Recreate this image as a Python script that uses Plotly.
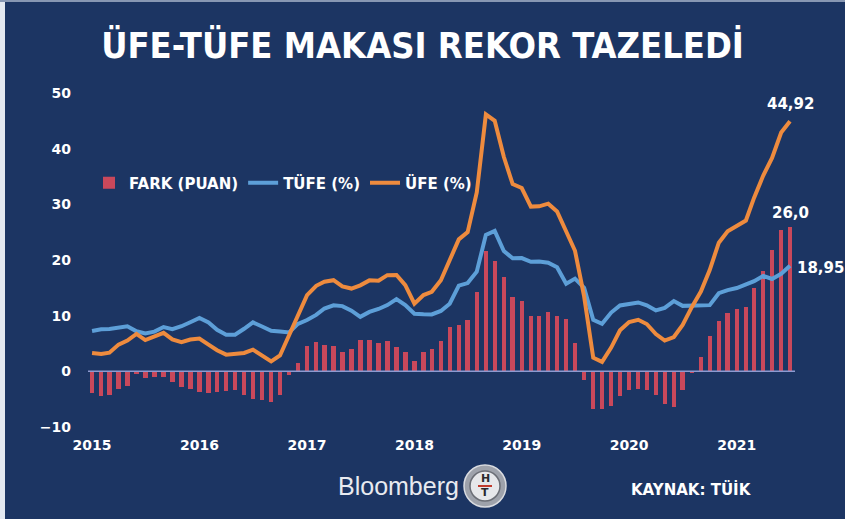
import pandas as pd
import plotly.graph_objects as go

# ---------------- data ----------------
months = pd.date_range("2015-01-01", periods=79, freq="MS")
year_ticks = ["2015", "2016", "2017", "2018", "2019", "2020", "2021"]

tufe = [
    7.24, 7.55, 7.61, 7.91, 8.09, 7.20, 6.81, 7.14, 7.95, 7.58, 8.10, 8.81,
    9.58, 8.78, 7.46, 6.57, 6.58, 7.64, 8.79, 8.05, 7.28, 7.16, 7.00, 8.53,
    9.22, 10.13, 11.29, 11.87, 11.72, 10.90, 9.79, 10.68, 11.20, 11.90, 12.98, 11.92,
    10.35, 10.26, 10.23, 10.85, 12.15, 15.39, 15.85, 17.90, 24.52, 25.24, 21.62, 20.30,
    20.35, 19.67, 19.71, 19.50, 18.71, 15.72, 16.65, 15.01, 9.26, 8.55, 10.56, 11.84,
    12.15, 12.37, 11.86, 10.94, 11.39, 12.62, 11.76, 11.77, 11.75, 11.89, 14.03, 14.60,
    14.97, 15.61, 16.19, 17.14, 16.59, 17.53, 18.95,
]
ufe = [
    3.28, 3.10, 3.34, 4.80, 5.52, 6.73, 5.62, 6.21, 6.92, 5.74, 5.25, 5.71,
    5.90, 4.80, 3.80, 3.00, 3.20, 3.30, 3.90, 2.90, 1.78, 2.84, 6.41, 9.94,
    13.69, 15.36, 16.09, 16.37, 15.26, 14.87, 15.45, 16.34, 16.28, 17.28, 17.30, 15.47,
    12.14, 13.71, 14.28, 16.37, 20.16, 23.71, 25.00, 32.13, 46.15, 45.01, 38.54, 33.64,
    32.93, 29.59, 29.64, 30.12, 28.71, 25.04, 21.66, 13.45, 2.45, 1.70, 4.26, 7.36,
    8.84, 9.26, 8.50, 6.71, 5.53, 6.17, 8.33, 11.53, 14.33, 18.20, 23.11, 25.15,
    26.16, 27.09, 31.20, 35.17, 38.33, 42.89, 44.92,
]
fark = [
    -3.96, -4.45, -4.27, -3.11, -2.57, -0.47, -1.19, -0.93, -1.03, -1.84, -2.85, -3.10,
    -3.68, -3.98, -3.66, -3.57, -3.38, -4.34, -4.89, -5.15, -5.50, -4.32, -0.59, 1.41,
    4.47, 5.23, 4.80, 4.50, 3.54, 3.97, 5.66, 5.66, 5.08, 5.38, 4.32, 3.55,
    1.79, 3.45, 4.05, 5.52, 8.01, 8.32, 9.15, 14.23, 21.63, 19.77, 16.92, 13.34,
    12.58, 9.92, 9.93, 10.62, 10.00, 9.32, 5.01, -1.56, -6.81, -6.85, -6.30, -4.48,
    -3.31, -3.11, -3.36, -4.23, -5.86, -6.45, -3.43, -0.24, 2.58, 6.31, 9.08, 10.55,
    11.19, 11.48, 15.01, 18.03, 21.74, 25.36, 25.97,
]

# ---------------- layout constants ----------------
W, H = 845, 519
ML, MR, MT, MB = 80, 40, 93, 92
PW, PH = W - ML - MR, H - MT - MB
BG = "#1c3563"
RED = "#c9485b"
BLUE = "#5d9fd8"
ORANGE = "#ee8b3e"
WHITE = "#ffffff"


def px(x):
    return (x - ML) / PW


def py(y):
    return 1 - (y - MT) / PH


def fmt(v, d):
    return f"{v:.{d}f}".replace(".", ",")


fig = go.Figure()
fig.add_trace(go.Bar(
    x=months, y=fark, name="FARK (PUAN)", marker_color=RED,
    marker_line_width=0, width=15 * 86400000,
))
fig.add_trace(go.Scatter(
    x=months, y=tufe, name="TÜFE (%)", mode="lines",
    line=dict(color=BLUE, width=4),
))
fig.add_trace(go.Scatter(
    x=months, y=ufe, name="ÜFE (%)", mode="lines",
    line=dict(color=ORANGE, width=4),
))

bold = dict(family="DejaVu Sans", color=WHITE, size=14, weight="bold")


def ptext(x, y, text, font):
    return dict(xref="paper", yref="paper", x=px(x), y=py(y), text=text,
                showarrow=False, xanchor="center", yanchor="middle", font=font)


annotations = [
    dict(x=months[-1], y=ufe[-1], text=fmt(ufe[-1], 2), showarrow=False,
         xanchor="center", yanchor="middle", yshift=17, font=dict(bold, size=15)),
    dict(x=months[-1], y=fark[-1], text=fmt(fark[-1], 1), showarrow=False,
         xanchor="center", yanchor="middle", yshift=14, font=dict(bold, size=15)),
    dict(x=months[-1], y=tufe[-1], text=fmt(tufe[-1], 2), showarrow=False,
         xanchor="left", yanchor="middle", xshift=5, yshift=-2, font=dict(bold, size=15)),
    ptext(398, 486, "Bloomberg", dict(family="Liberation Sans", size=25, color="#e8eaf0")),
    ptext(691, 489, "KAYNAK: TÜİK", dict(bold, size=15)),
    ptext(485, 478, "H", dict(family="DejaVu Sans", size=11, color="#2a2a2e", weight="bold")),
    ptext(485, 493, "T", dict(family="DejaVu Sans", size=11, color="#2a2a2e", weight="bold")),
]


def circ(cx, cy, r, fill, line):
    return dict(type="circle", xref="paper", yref="paper",
                x0=px(cx - r), x1=px(cx + r), y0=py(cy + r), y1=py(cy - r),
                fillcolor=fill, line=dict(color=line, width=1.5), layer="above")


shapes = [
    dict(type="line", xref="paper", yref="y", x0=px(88), x1=px(795), y0=0, y1=0,
         line=dict(color="#8e9ad0", width=1.5), layer="above"),
    circ(485, 486, 21, "#9ea2ab", "#d9dbe0"),
    circ(485, 486, 15, "#e6e7ea", "#6b6e76"),
    dict(type="line", xref="paper", yref="paper", x0=px(478), x1=px(492),
         y0=py(486), y1=py(486), line=dict(color="#c0392b", width=2), layer="above"),
    dict(type="rect", xref="paper", yref="paper", x0=px(0), x1=px(5),
         y0=py(H), y1=py(0), fillcolor="#e3e8f0", line_width=0, layer="above"),
    dict(type="rect", xref="paper", yref="paper", x0=px(0), x1=px(W),
         y0=py(2), y1=py(0), fillcolor="#8797b3", line_width=0, layer="above"),
]

fig.update_layout(
    width=W, height=H,
    paper_bgcolor=BG, plot_bgcolor=BG,
    margin=dict(l=ML, r=MR, t=MT, b=MB),
    title=dict(text="ÜFE-TÜFE MAKASI REKOR TAZELEDİ", x=0.5, xanchor="center",
               y=1 - 45 / H, yanchor="middle", yref="container",
               font=dict(family="DejaVu Sans Condensed", size=36, color=WHITE, weight="bold")),
    showlegend=True,
    legend=dict(orientation="h", x=px(89), y=py(183), xanchor="left", yanchor="middle",
                bgcolor="rgba(0,0,0,0)", font=dict(bold, size=15),
                traceorder="normal", itemwidth=30),
    bargap=0,
    annotations=annotations,
    shapes=shapes,
    xaxis=dict(
        type="date", range=["2014-11-21", "2021-08-21"],
        tickvals=[f"{y}-01-01" for y in year_ticks], ticktext=year_ticks,
        showgrid=False, zeroline=False, showline=False, ticks="",
        tickfont=dict(bold, size=14), ticklabelstandoff=8,
    ),
    yaxis=dict(
        range=[-10, 50], tickvals=[-10, 0, 10, 20, 30, 40, 50],
        showgrid=False, zeroline=False,
        showline=False, ticks="", tickfont=dict(bold, size=14), ticklabelstandoff=8,
    ),
)

fig.write_html("out.html", config={"displayModeBar": False},
               post_script="document.body.style.margin='0px';")
